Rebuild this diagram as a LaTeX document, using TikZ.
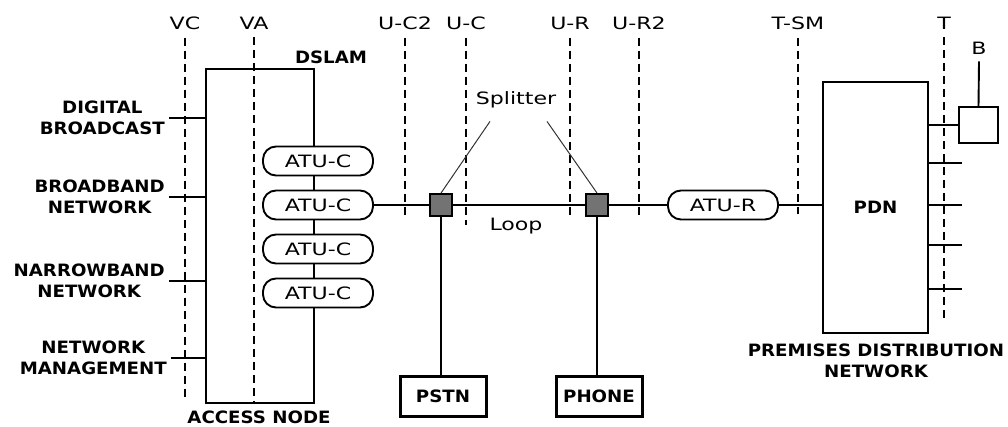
\documentclass[tikz,border=0pt]{standalone}
\usepackage{fontspec}
\setmainfont{DejaVu Sans}
\newfontfamily\reffont[FakeStretch=1.3]{DejaVu Sans}
\newfontfamily\hdrfont[FakeStretch=1.07]{DejaVu Sans}
\usetikzlibrary{positioning}

\begin{document}
\begin{tikzpicture}[
  x=1pt, y=-1pt,
  every node/.style={font={\reffont\fontsize{17}{21}\selectfont}, align=center, inner sep=0pt},
  hdr/.style={font={\hdrfont\bfseries\fontsize{17}{21}\selectfont}},
  refline/.style={dash pattern=on 8pt off 5pt, line width=1.7pt},
  wire/.style={line width=1.9pt},
  atu/.style={draw, line width=1.9pt, fill=white, rounded corners=13pt, minimum width=110pt, minimum height=29pt},
  splitbox/.style={draw, line width=1.9pt, fill=black!55, minimum size=22pt},
  termbox/.style={draw, line width=3pt, minimum width=86pt, minimum height=40pt, hdr}
]
\useasboundingbox (0,0) rectangle (1008,427);

% reference points
\foreach \x/\n/\t/\yb in {185/vc/VC/400, 254/va/VA/403, 405/uctwo/U-C2/218, 466/uc/U-C/225,
    570/ur/U-R/218, 639/urtwo/U-R2/215, 798/tsm/T-SM/214, 944/tpt/T/323} {
  \node (\n) at (\x,23) {\t};
  \draw[refline] ([yshift=-8pt]\n.south) -- (\n.south |- 0,\yb);
}

% access node
\node[draw, wire, minimum width=108pt, minimum height=334pt] (dslam) at (260,236) {};
\node[hdr] (dslamlbl) at (331,57) {DSLAM};
\node[hdr] (accnode) at (259,417) {ACCESS NODE};
\node[hdr, anchor=east] (digital) at (165,118) {DIGITAL\\BROADCAST};
\node[hdr, anchor=east] (broadband) at (165,197) {BROADBAND\\NETWORK};
\node[hdr, anchor=east] (narrowband) at (165,281) {NARROWBAND\\NETWORK};
\node[hdr, anchor=east] (netmgmt) at (167,358) {NETWORK\\MANAGEMENT};
\foreach \n in {digital, broadband, narrowband, netmgmt}
  \draw[wire] ([xshift=4pt]\n.east) -- (\n.east -| dslam.west);
\foreach \i/\y in {1/161, 2/205, 3/249, 4/293}
  \node[atu] (atuc\i) at (318,\y) {ATU-C};

% loop and splitters
\node[splitbox] (splitc) at (441,205) {};
\node[splitbox] (splitr) at (597,205) {};
\node[atu] (atur) at (723,205) {ATU-R};
\node[draw, wire, minimum width=105pt, minimum height=251pt, hdr] (pdn) at (875.5,207.5) {PDN};
\draw[wire] (atuc2) -- (splitc) -- (splitr) -- (atur) -- (atur -| pdn.west);
\node (loop) at (516,226) {Loop};
\node (splitter) at (516,100) {Splitter};
\draw[line width=1pt, black!80] ([xshift=-26pt,yshift=-13pt]splitter.south) -- (splitc.north);
\draw[line width=1pt, black!80] ([xshift=31pt,yshift=-13pt]splitter.south) -- (splitr.north);
\node[termbox] (pstn) at (443,396) {PSTN};
\node[termbox] (phone) at (599,396) {PHONE};
\draw[wire] (splitc.south) -- (splitc.south |- pstn.north);
\draw[wire] (splitr.south) -- (splitr.south |- phone.north);

% premises
\node[hdr] (pdnlbl) at (876,361) {PREMISES DISTRIBUTION\\NETWORK};
\node[draw, wire, minimum width=39pt, minimum height=36pt] (bbox) at (978.5,125) {};
\node (blbl) at (979,48) {B};
\draw[wire] (bbox.north) -- ([yshift=-7pt]blbl.south);
\draw[wire] (bbox.west -| pdn.east) -- (bbox.west);
\foreach \y in {163,205,245,289}
  \draw[wire] (pdn.east |- 0,\y) -- ++(33,0);
\end{tikzpicture}
\end{document}
